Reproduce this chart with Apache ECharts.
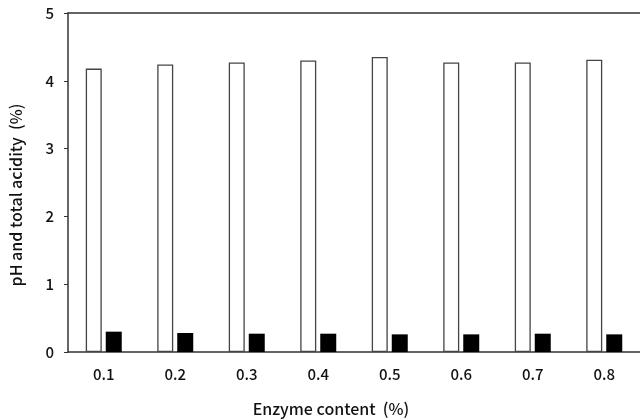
<!DOCTYPE html>
<html>
<head>
<meta charset="utf-8">
<script src="https://cdn.jsdelivr.net/npm/echarts@6/dist/echarts.min.js"></script>
<style>html,body{margin:0;padding:0;background:#fff}#c{width:640px;height:419px}</style>
</head>
<body>
<div id="c"></div>
<script>
var categories = ['0.1','0.2','0.3','0.4','0.5','0.6','0.7','0.8'];
var phValues = [4.18, 4.24, 4.27, 4.30, 4.35, 4.27, 4.27, 4.31];
var acidityValues = [0.30, 0.28, 0.27, 0.27, 0.26, 0.26, 0.27, 0.26];
var yTicks = [0, 1, 2, 3, 4, 5];
var xAxisTitle = 'Enzyme content  (%)';
var yAxisTitle = 'pH and total acidity  (%)';

var FONT = 'Noto Sans CJK JP';
var chart = echarts.init(document.getElementById('c'), null, {renderer: 'canvas'});
chart.setOption({
  animation: false,
  backgroundColor: '#fff',
  grid: {left: 68, right: 0, top: 13, bottom: 67, containLabel: false},
  xAxis: [{
    type: 'category',
    data: categories,
    axisLine: {lineStyle: {color: '#333', width: 1.5}},
    axisTick: {show: false},
    axisLabel: {margin: 15, fontFamily: FONT, fontSize: 15, fontWeight: 500, color: '#111'}
  }, {
    type: 'category',
    position: 'top',
    data: categories,
    axisLine: {lineStyle: {color: '#333', width: 1.5}},
    axisTick: {show: false},
    axisLabel: {show: false}
  }],
  yAxis: {
    type: 'value',
    min: yTicks[0],
    max: yTicks[yTicks.length - 1],
    interval: 1,
    axisLine: {show: true, lineStyle: {color: '#333', width: 1.5}},
    axisTick: {show: true, inside: false, length: 4, lineStyle: {color: '#333'}},
    axisLabel: {margin: 14, fontFamily: FONT, fontSize: 15, fontWeight: 500, color: '#111'},
    splitLine: {show: false}
  },
  series: [{
    type: 'bar',
    data: phValues,
    barWidth: 16,
    barGap: '25%',
    itemStyle: {color: '#fff', borderColor: '#444', borderWidth: 1.3}
  }, {
    type: 'bar',
    data: acidityValues,
    barWidth: 16,
    barGap: '25%',
    itemStyle: {color: '#000', borderColor: '#000', borderWidth: 0}
  }],
  graphic: [{
    type: 'text',
    x: 331, y: 409,
    style: {text: xAxisTitle, font: '500 16px "' + FONT + '"', fill: '#111', textAlign: 'center', textVerticalAlign: 'middle'}
  }, {
    type: 'text',
    x: 16, y: 195,
    rotation: Math.PI / 2,
    style: {text: yAxisTitle, font: '500 16px "' + FONT + '"', fill: '#111', textAlign: 'center', textVerticalAlign: 'middle'}
  }]
});
</script>
</body>
</html>
